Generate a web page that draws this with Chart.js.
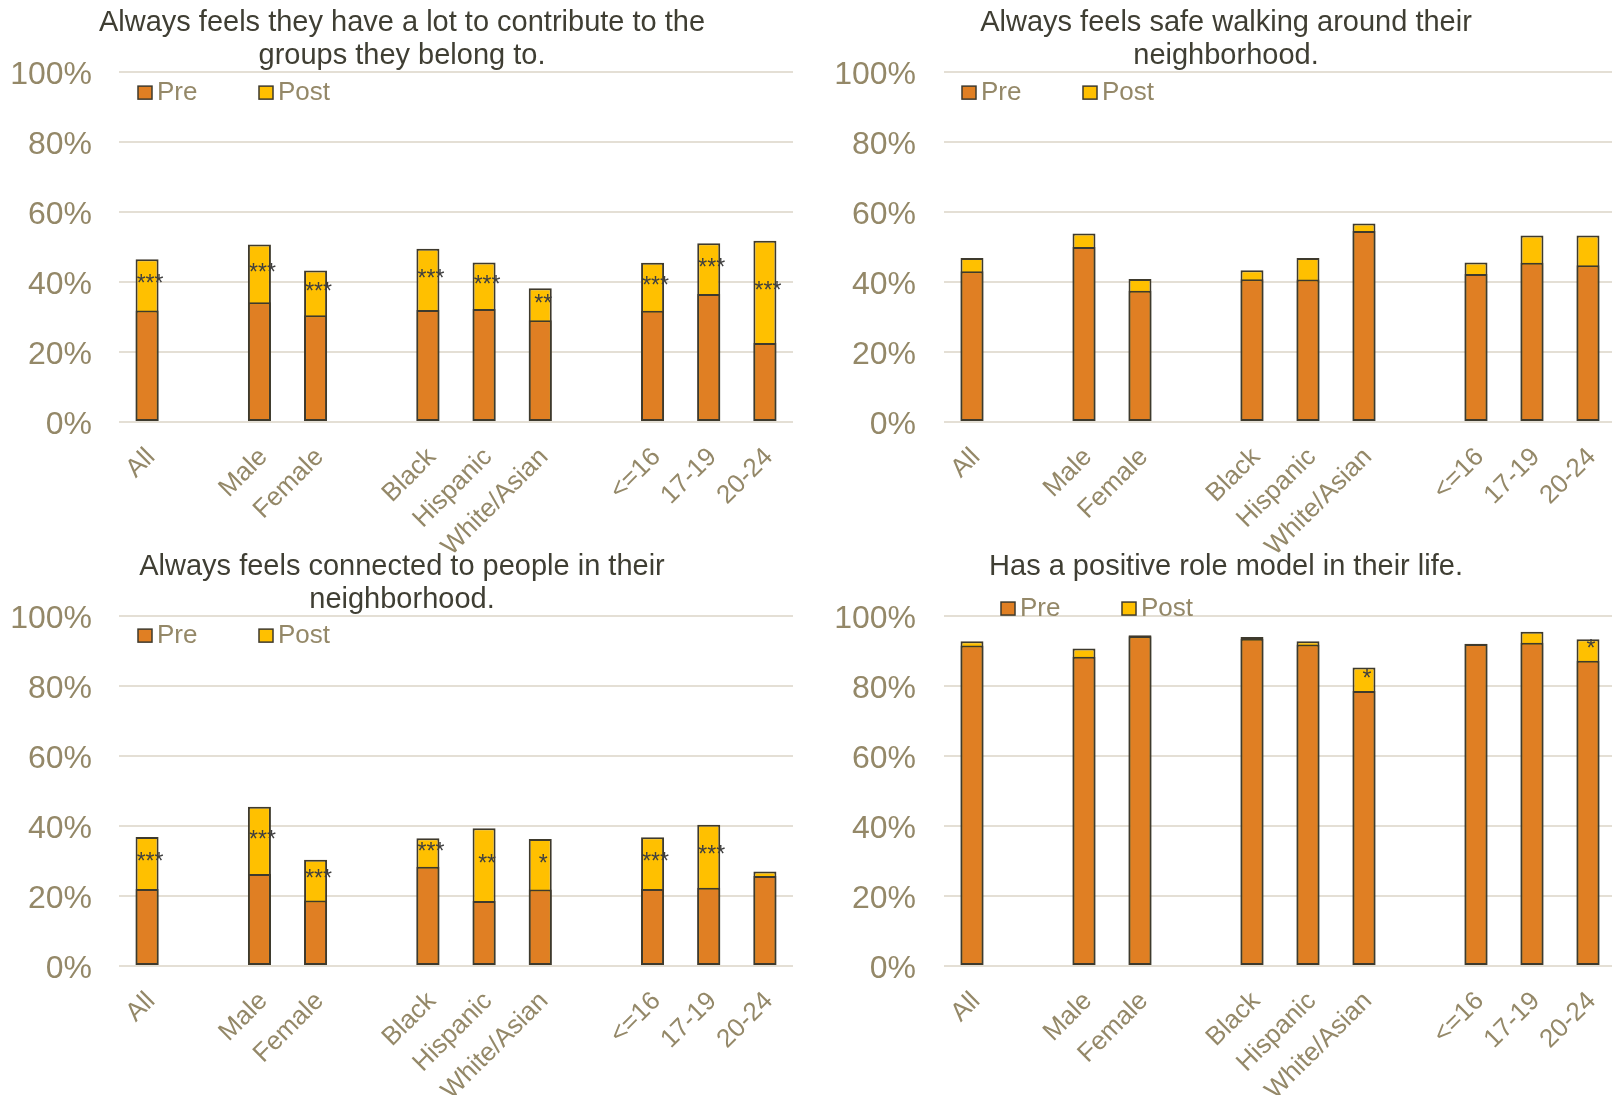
<!DOCTYPE html>
<html>
<head>
<meta charset="utf-8">
<script src="https://cdn.jsdelivr.net/npm/chart.js@4.4.1/dist/chart.umd.min.js"></script>
<style>
  html, body { margin: 0; padding: 0; background: #fff; overflow: hidden; width: 1612px; height: 1095px; }
  canvas { position: absolute; }
</style>
</head>
<body>
<canvas id="contributeChart" width="806" height="562" style="left:0;top:0"></canvas>
<canvas id="safeChart" width="840" height="562" style="left:806px;top:0"></canvas>
<canvas id="connectedChart" width="806" height="560" style="left:0;top:544px"></canvas>
<canvas id="roleModelChart" width="840" height="560" style="left:806px;top:544px"></canvas>
<script>
// categories (blank slots separate the groups)
const categories = ['All', '', 'Male', 'Female', '', 'Black', 'Hispanic', 'White/Asian', '', '<=16', '17-19', '20-24'];
const yTicks = [0, 20, 40, 60, 80, 100];

// Always feels they have a lot to contribute
const contributePre  = [31.9, null, 34.2, 30.5, null, 32.0, 32.3, 29.1, null, 31.8, 36.6, 22.6];
const contributePost = [46.5, null, 50.7, 43.3, null, 49.5, 45.6, 38.2, null, 45.5, 51.1, 51.8];
const contributeSig  = ['***', '', '***', '***', '', '***', '***', '**', '', '***', '***', '***'];

// Always feels safe walking around their neighborhood
const safePre  = [43.1, null, 50.0, 37.5, null, 40.8, 40.7, 54.6, null, 42.3, 45.5, 44.8];
const safePost = [46.9, null, 53.9, 40.9, null, 43.4, 46.9, 56.7, null, 45.6, 53.3, 53.3];
const safeSig  = ['', '', '', '', '', '', '', '', '', '', '', ''];

// Always feels connected to people in their neighborhood
const connectedPre  = [22.0, null, 26.3, 18.7, null, 28.4, 18.6, 21.9, null, 22.0, 22.4, 25.7];
const connectedPost = [36.9, null, 45.5, 30.4, null, 36.5, 39.4, 36.3, null, 36.8, 40.4, 27.0];
const connectedSig  = ['***', '', '***', '***', '', '***', '**', '*', '', '***', '***', ''];

// Has a positive role model in their life
const roleModelPre  = [91.6, null, 88.4, 94.2, null, 93.5, 91.9, 78.6, null, 92.0, 92.4, 87.2];
const roleModelPost = [92.8, null, 90.7, 94.5, null, 94.0, 92.8, 85.3, null, 92.1, 95.5, 93.4];
const roleModelSig  = ['', '', '', '', '', '', '', '*', '', '', '', '*'];

const PRE_COLOR = '#E07F23';
const POST_COLOR = '#FFC000';
const EDGE = '#3E3A2D';
const TAN = '#948868';
const TITLE_COLOR = '#3F3E33';
const GRID = '#E4DFD5';
const FONT = '"Liberation Sans", Arial, sans-serif';

// legend drawn inside the plot, boxes at fixed spacing like the original
const boxLegend = {
    id: 'boxLegend',
    afterDraw(chart, args, opts) {
        const ctx = chart.ctx;
        const area = chart.chartArea;
        let x = area.left + opts.dx;
        const y = area.top + opts.dy;
        ctx.save();
        ctx.font = '26px ' + FONT;
        ctx.textBaseline = 'middle';
        chart.data.datasets.forEach(ds => {
            ctx.fillStyle = ds.backgroundColor;
            ctx.fillRect(x, y, 14, 13);
            ctx.strokeStyle = EDGE;
            ctx.lineWidth = 1.5;
            ctx.strokeRect(x, y, 14, 13);
            ctx.fillStyle = TAN;
            ctx.fillText(ds.label, x + 19, y + 7);
            x += 121;
        });
        ctx.restore();
    }
};

// significance stars in the middle of the post segment
const sigLabels = {
    id: 'sigLabels',
    afterDatasetsDraw(chart) {
        const ctx = chart.ctx;
        const yScale = chart.scales.y;
        const pre = chart.data.datasets[0].data;
        const post = chart.data.datasets[1].data;
        const marks = chart.data.datasets[1].sig;
        const meta = chart.getDatasetMeta(1);
        ctx.save();
        ctx.font = '23px ' + FONT;
        ctx.fillStyle = '#3F3F3F';
        ctx.textAlign = 'center';
        ctx.textBaseline = 'middle';
        marks.forEach((m, i) => {
            if (!m) return;
            const bar = meta.data[i];
            ctx.fillText(m, bar.x + 3, yScale.getPixelForValue((pre[i] + post[i]) / 2));
        });
        ctx.restore();
    }
};

function makeChart(id, title, pre, post, sig, cfg) {
    new Chart(document.getElementById(id), {
        type: 'bar',
        data: {
            labels: categories,
            datasets: [{
                label: 'Pre',
                data: pre,
                backgroundColor: PRE_COLOR,
                borderColor: EDGE,
                borderWidth: 2,
                borderSkipped: false,
                barPercentage: 0.41,
                categoryPercentage: 1,
                order: 0
            }, {
                label: 'Post',
                data: post,
                sig: sig,
                backgroundColor: POST_COLOR,
                borderColor: EDGE,
                borderWidth: 2,
                borderSkipped: false,
                barPercentage: 0.41,
                categoryPercentage: 1,
                order: 1
            }]
        },
        options: {
            responsive: false,
            animation: false,
            devicePixelRatio: 1,
            layout: { padding: { left: cfg.padLeft, right: cfg.padRight, top: 0, bottom: 0 } },
            plugins: {
                legend: { display: false },
                tooltip: { enabled: false },
                title: {
                    display: true,
                    text: title,
                    color: TITLE_COLOR,
                    font: { family: FONT, size: 29, weight: 'normal', lineHeight: 1.14 },
                    padding: { top: 6, bottom: cfg.titleBottom }
                },
                boxLegend: { dx: cfg.legendDx, dy: cfg.legendDy }
            },
            scales: {
                x: {
                    stacked: true,
                    grid: { display: false },
                    border: { display: false },
                    ticks: {
                        color: TAN,
                        font: { family: FONT, size: 26 },
                        minRotation: 45,
                        maxRotation: 45,
                        autoSkip: false,
                        padding: 12,
                        labelOffset: 4
                    },
                    afterFit: scale => { scale.height = cfg.xHeight; }
                },
                y: {
                    stacked: false,
                    min: 0,
                    max: 100,
                    afterBuildTicks: scale => { scale.ticks = yTicks.map(v => ({ value: v })); },
                    ticks: {
                        color: TAN,
                        font: { family: FONT, size: 32 },
                        padding: cfg.tickPad,
                        labelOffset: 3,
                        callback: v => v + '%'
                    },
                    grid: { color: GRID, lineWidth: 2, drawTicks: false },
                    border: { display: false },
                    afterFit: scale => { scale.width = cfg.yWidth; }
                }
            }
        },
        plugins: [boxLegend, sigLabels]
    });
}

document.addEventListener('DOMContentLoaded', () => {
    makeChart('contributeChart',
        ['Always feels they have a lot to contribute to the', 'groups they belong to.'],
        contributePre, contributePost, contributeSig,
        { padLeft: 11, padRight: 13, yWidth: 108, tickPad: 27, titleBottom: 0, xHeight: 140, legendDx: 19, legendDy: 14 });

    makeChart('safeChart',
        ['Always feels safe walking around their', 'neighborhood.'],
        safePre, safePost, safeSig,
        { padLeft: 30, padRight: 30, yWidth: 108, tickPad: 28, titleBottom: 0, xHeight: 140, legendDx: 18, legendDy: 14 });

    makeChart('connectedChart',
        ['Always feels connected to people in their', 'neighborhood.'],
        connectedPre, connectedPost, connectedSig,
        { padLeft: 11, padRight: 13, yWidth: 108, tickPad: 27, titleBottom: 0, xHeight: 138, legendDx: 19, legendDy: 13 });

    makeChart('roleModelChart',
        'Has a positive role model in their life.',
        roleModelPre, roleModelPost, roleModelSig,
        { padLeft: 30, padRight: 30, yWidth: 108, tickPad: 28, titleBottom: 33, xHeight: 138, legendDx: 57, legendDy: -14 });
});
</script>
</body>
</html>
